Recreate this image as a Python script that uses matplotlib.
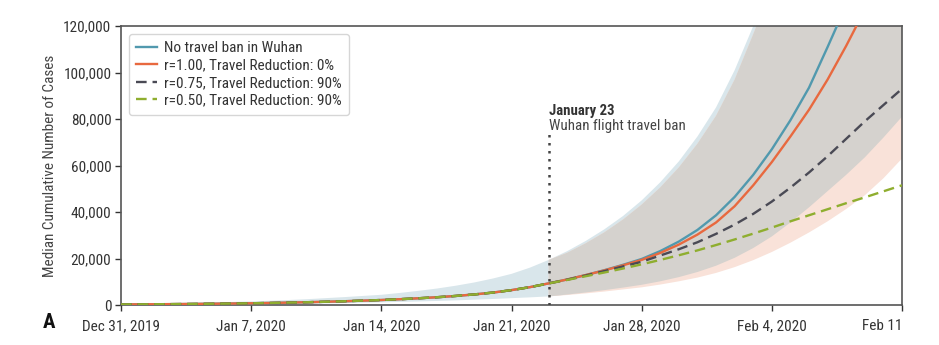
import numpy as np
import pandas as pd
import matplotlib
matplotlib.use("Agg")
import matplotlib.pyplot as plt
from matplotlib import font_manager

# pick a narrow sans face if one is available
_fonts = font_manager.fontManager.ttflist
_names = {f.name for f in _fonts}
if "Roboto Condensed" in _names:
    plt.rcParams['font.family'] = ['Roboto Condensed', 'DejaVu Sans']
elif any(f.name == "Noto Sans" and f.stretch in ("condensed", 300, "semi-condensed", 400)
         for f in _fonts):
    plt.rcParams['font.family'] = ['Noto Sans', 'DejaVu Sans']
    plt.rcParams['font.stretch'] = 'condensed'
elif "Liberation Sans Narrow" in _names:
    plt.rcParams['font.family'] = ['Liberation Sans Narrow', 'DejaVu Sans']
else:
    plt.rcParams['font.family'] = ['Roboto', 'DejaVu Sans']

# ---- data (cumulative cases, thousands) ----
start_date = "2019-12-31"
ban_day = 23  # Jan 23, 2020

# shared trajectory before the travel ban (days 0..23)
median_pre_k = [0.25, 0.29, 0.34, 0.40, 0.47, 0.55, 0.64, 0.75, 0.88, 1.03, 1.2, 1.4,
                1.62, 1.88, 2.15, 2.5, 2.9, 3.35, 3.9, 4.55, 5.35, 6.4, 7.7, 9.3]

# scenario medians after the ban (days 23..42)
no_ban_post_k = [9.3, 11.0, 12.9, 15.0, 17.3, 19.8, 23.2, 27.3, 32.3, 38.6, 46.5, 56.0,
                 67.0, 79.5, 93.5, 111.0, 129.0, 147.0, 169.0, 194.0]
r100_post_k = [9.3, 11.0, 12.9, 14.9, 17.1, 19.4, 22.4, 26.0, 30.3, 35.5, 42.5, 51.5,
               61.5, 72.5, 84.0, 97.0, 111.5, 127.0, 145.0, 165.0]
r075_post_k = [9.3, 10.9, 12.7, 14.6, 16.6, 18.6, 21.3, 24.0, 27.0, 30.6, 34.6, 39.2,
               44.5, 50.5, 57.0, 64.0, 71.5, 79.0, 86.0, 93.0]
r050_post_k = [9.3, 10.8, 12.4, 14.0, 15.7, 17.5, 19.4, 21.4, 23.5, 25.8, 28.2, 30.7,
               33.3, 36.0, 38.6, 41.2, 43.8, 46.3, 48.9, 51.5]

# uncertainty bands
no_ban_upper_k = [0.45, 0.55, 0.66, 0.8, 0.95, 1.12, 1.32, 1.55, 1.82, 2.15, 2.5, 2.95,
                  3.4, 3.9, 4.4, 5.2, 6.1, 7.1, 8.3, 9.7, 11.4, 13.4, 16.1, 19.4,
                  23.2, 27.6, 32.6, 38.3, 45.0, 52.8, 61.8, 72.5, 85.0, 101.0, 120.0,
                  141.0, 166.0, 195.0, 229.0, 269.0, 316.0, 371.0, 436.0]
no_ban_lower_k = [0.12, 0.14, 0.17, 0.2, 0.23, 0.27, 0.32, 0.37, 0.44, 0.51, 0.6, 0.7,
                  0.82, 0.97, 1.15, 1.33, 1.53, 1.75, 2.0, 2.3, 2.6, 2.95, 3.3, 3.7,
                  4.5, 5.4, 6.4, 7.5, 8.7, 10.2, 12.0, 14.2, 16.9, 20.3, 24.5, 29.5,
                  35.5, 42.0, 49.0, 56.0, 63.5, 72.0, 81.0]
r100_upper_k = [19.4, 22.5, 26.6, 31.3, 36.8, 43.2, 50.6, 59.2, 69.4, 81.4, 97.0, 116.5,
                137.0, 161.0, 189.0, 222.0, 261.0, 306.0, 359.0, 421.0]
r100_lower_k = [3.7, 4.3, 5.0, 5.8, 6.7, 7.6, 8.8, 10.2, 11.8, 13.8, 16.3, 19.3,
                22.8, 26.8, 31.2, 36.0, 41.3, 47.2, 54.5, 63.0]

labels = ["No travel ban in Wuhan",
          "r=1.00, Travel Reduction: 0%",
          "r=0.75, Travel Reduction: 90%",
          "r=0.50, Travel Reduction: 90%"]
tick_labels = ["Dec 31, 2019", "Jan 7, 2020", "Jan 14, 2020", "Jan 21, 2020",
               "Jan 28, 2020", "Feb 4, 2020", "Feb 11"]
yticks = [0, 20000, 40000, 60000, 80000, 100000, 120000]

# ---- assemble series ----
n_days = len(median_pre_k) + len(no_ban_post_k) - 1
dates = pd.date_range(start_date, periods=n_days, freq="D")
post_dates = dates[ban_day:]

def full(post):
    return np.array(median_pre_k[:-1] + post) * 1000

series = [full(no_ban_post_k), full(r100_post_k), full(r075_post_k), full(r050_post_k)]
nb_up = np.array(no_ban_upper_k) * 1000
nb_lo = np.array(no_ban_lower_k) * 1000
r1_up = np.array(r100_upper_k) * 1000
r1_lo = np.array(r100_lower_k) * 1000

colors = ["#5199ae", "#e8693f", "#4a4a55", "#8fae2f"]
styles = ["-", "-", (0, (4.5, 2.5)), (0, (4.5, 2.5))]

# ---- figure ----
fig = plt.figure(figsize=(9.39, 3.45), dpi=100)
ax = fig.add_axes([0.1289, 0.1159, 0.8317, 0.8087])

ax.fill_between(dates, nb_lo, nb_up, color="#d9e6eb", lw=0, zorder=1)
ax.fill_between(post_dates, r1_lo, r1_up, color="#f9e2d9", lw=0, zorder=1)
ax.fill_between(post_dates, np.maximum(r1_lo, nb_lo[ban_day:]),
                np.minimum(r1_up, nb_up[ban_day:]), color="#d5d2ce", lw=0, zorder=2)

for y, c, ls, lab in zip(series, colors, styles, labels):
    ax.plot(dates, y, color=c, linestyle=ls, lw=1.7, label=lab, zorder=3)

ban_date = dates[ban_day]
ax.plot([ban_date, ban_date], [0, 74000], color="#444444", linestyle=(0, (1, 2.2)),
        lw=1.8, zorder=4)
ax.text(ban_date, 83500, "January 23", fontsize=10.6, fontweight="bold",
        color="#333333", ha="left", va="center")
ax.text(ban_date, 76800, "Wuhan flight travel ban", fontsize=10.8,
        color="#444444", ha="left", va="center")

ax.set_xlim(dates[0], dates[-1])
ax.set_ylim(0, 120000)
tick_dates = dates[::7]
ax.set_xticks(tick_dates)
ax.set_xticklabels(tick_labels)
ax.get_xticklabels()[-1].set_horizontalalignment("right")
ax.set_yticks(yticks)
ax.set_yticklabels([f"{v:,}" for v in yticks])
ax.tick_params(axis="both", labelsize=11, colors="#333333", length=4, width=1,
               pad=3)
ax.tick_params(axis="x", pad=6)
for sp in ax.spines.values():
    sp.set_color("#555555")
    sp.set_linewidth(1.2)

ax.set_ylabel("Median Cumulative Number of Cases", fontsize=11, color="#444444")
ax.yaxis.set_label_coords(-0.082, 0.5)

leg = ax.legend(loc="upper left", fontsize=11, frameon=True, fancybox=True,
                handlelength=1.35, handletextpad=0.45, borderpad=0.5,
                labelspacing=0.22, bbox_to_anchor=(0.0, 1.0), borderaxespad=0.5)
leg.get_frame().set_edgecolor("#cccccc")
leg.get_frame().set_linewidth(1.0)
for t in leg.get_texts():
    t.set_color("#333333")

fig.text(43 / 939, 1 - 322 / 345, "A", fontsize=15, fontweight="bold",
         ha="left", va="center", color="#111111")

fig.savefig("out.png", dpi=100)
